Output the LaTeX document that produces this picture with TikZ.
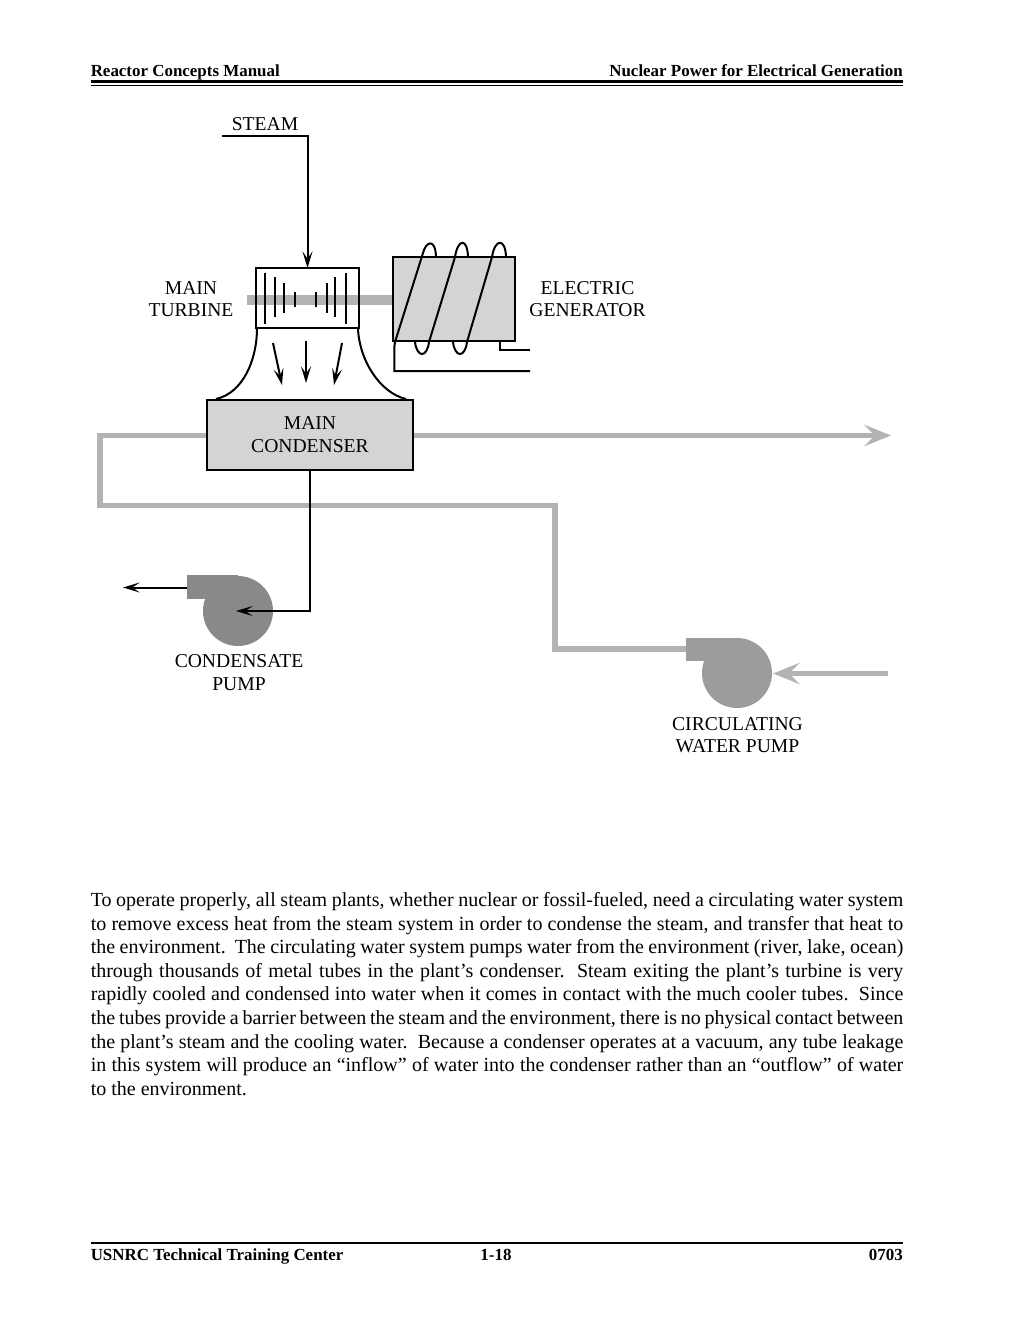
\documentclass[tikz,border=0pt]{standalone}
\usepackage{fontspec}
\setmainfont{Liberation Serif}
\usetikzlibrary{arrows.meta}
\definecolor{pipegray}{HTML}{B3B3B3}
\definecolor{boxgray}{HTML}{D4D4D4}
\definecolor{cpumpgray}{HTML}{898989}
\definecolor{wpumpgray}{HTML}{9C9C9C}
\newcommand{\bodyline}[2]{\node[bodytext] at (90.5,#1) {\hbox to 609.4pt{#2}};}
\tikzset{
  x=0.75pt,y=-0.75pt,
  label/.style={font=\fontsize{14.7}{16.9}\selectfont,align=center,inner sep=0pt},
  bodytext/.style={anchor=base west,inner sep=0pt,font=\fontsize{15}{17}\selectfont},
  headtext/.style={anchor=base,inner sep=0pt,font=\fontsize{12.7}{14}\selectfont\bfseries},
  blackline/.style={draw=black,line width=1.5pt},
  thinline/.style={draw=black,line width=1.5pt},
  tip/.style={-{Stealth[length=12.5pt,width=7.5pt,inset=5.5pt]}},
  pipe/.style={draw=pipegray,line width=4.4pt},
  pipetip/.style={-{Stealth[length=20pt,width=16pt,inset=8pt]}},
  bigbox/.style={draw=black,fill=boxgray,line width=1.6pt,minimum width=154.5pt,minimum height=52.5pt,inner sep=0pt,outer sep=0pt},
  boxedge/.style={draw=black,line width=1.6pt},
  genbox/.style={draw=black,fill=boxgray,line width=1.5pt,minimum width=91.5pt,minimum height=63pt,inner sep=0pt,outer sep=0pt},
  turbbox/.style={draw=black,line width=1.5pt,minimum width=77.25pt,minimum height=45pt,inner sep=0pt,outer sep=0pt},
  blade/.style={draw=black,line width=1.4pt},
  pumpc/.style={circle,minimum size=52.5pt,inner sep=0pt,outer sep=0pt},
  pumpr/.style={minimum width=38.25pt,minimum height=17.5pt,inner sep=0pt,outer sep=0pt},
}
\begin{document}
\begin{tikzpicture}
\useasboundingbox (0,0) rectangle (1023,1324);
\fill[white] (0,0) rectangle (1023,1324);
% page header
\node[headtext,anchor=base west] (hl) at (90.5,76) {Reactor Concepts Manual};
\node[headtext,anchor=base east] (hr) at (903,76) {Nuclear Power for Electrical Generation};
\fill[black] (90.5,80.3) rectangle (903,83.2);
\fill[black] (90.5,84.5) rectangle (903,85.7);
% main nodes
\node[bigbox] (cond) at (310,435) {};
\node[genbox] (gen) at (454,299) {};
\node[turbbox] (turb) at (307.5,298) {};
\node[pumpc,fill=cpumpgray] (cpump) at (238,611) {};
\node[pumpr,fill=cpumpgray] (cout) at (212.5,587) {};
\node[pumpc,fill=wpumpgray] (wpump) at (737,673) {};
\node[pumpr,fill=wpumpgray] (wout) at (711.5,649.5) {};
% water pipes
\coordinate (wc1) at (555,649);
\coordinate (wc2) at (555,505.5);
\coordinate (wc3) at (100,505.5);
\coordinate (wc4) at (100,435.5);
\coordinate (wend) at (891,435.5);
\coordinate (wstart) at (888,673.5);
\draw[pipe,line join=miter] (wout.west |- wc1) -- (wc1) -- (wc2) -- (wc3) -- (wc4) -- (cond.west |- wc4);
\draw[pipe,pipetip] (cond.east |- wend) -- (wend);
\draw[pipe,pipetip] (wstart) -- (773,673.5);
\draw[boxedge] (cond.south west) rectangle (cond.north east);
% shaft
\draw[draw=pipegray,line width=7.5pt] (247,299.5) -- (gen.west |- 0,299.5);
% redraw boxes over shaft
\draw[blackline] (turb.south west) rectangle (turb.north east);
\draw[blackline,fill=boxgray] (gen.south west) rectangle (gen.north east);
% turbine blades
\foreach \bx/\ba/\bb in {264.7/272.7/324,275/277.3/317.3,284/283.3/313.3,294.7/292/306.7,316/292/306.7,327/283.3/313.3,335.3/277.3/317.3,346/272.7/324}
  \draw[blade] (\bx,\ba) -- (\bx,\bb);
% exhaust hood
\coordinate (hl1) at (257,328);
\coordinate (hl2) at (216,399);
\coordinate (hr1) at (358,328);
\coordinate (hr2) at (406,399);
\draw[blackline] (hl1) .. controls (257,360) and (243,393) .. (hl2);
\draw[blackline] (hr1) .. controls (359,360) and (380,393) .. (hr2);
% coil
\draw[blackline,line join=round]
  (395,342) -- (423,253) .. controls (426,241) and (435.5,238) .. (436,257);
\draw[blackline] (429,342) -- (455,257) .. controls (458,238) and (467.5,238) .. (468,257);
\draw[blackline] (467,342) -- (492,257) .. controls (495,238) and (505.5,238) .. (506,257);
\draw[blackline] (415,342) .. controls (417,358) and (427,358) .. (429,342);
\draw[blackline] (453,342) .. controls (455,358) and (465,358) .. (467,342);
\coordinate (la) at (530,350);
\coordinate (lb) at (530,371);
\draw[blackline] (500,341) -- (500,350) -- (la);
\draw[blackline] (395,342) .. controls (394.5,345) and (394.3,347) .. (394.3,350) -- (394.3,371) -- (lb);
% steam
\coordinate (st) at (222,136);
\draw[thinline,tip] (st) -- (turb.north |- st) -- (turb.north);
% exhaust arrows
\coordinate (e1a) at (273,343); \coordinate (e1b) at (282,385);
\coordinate (e2a) at (306,341); \coordinate (e2b) at (306,383);
\coordinate (e3a) at (342,343); \coordinate (e3b) at (334,385);
\draw[thinline,tip] (e1a) -- (e1b);
\draw[thinline,tip] (e2a) -- (e2b);
\draw[thinline,tip] (e3a) -- (e3b);
% condensate
\coordinate (cend) at (123,587.5);
\draw[thinline,tip] (cout.west |- cend) -- (cend);
\draw[blackline,tip,line join=miter] (cond.south) -- (cond.south |- cpump.center) -- (236,611);
% labels
\node[label] (lsteam) at (265,124) {STEAM};
\node[label] (lturb) at (191,299) {MAIN\\TURBINE};
\node[label] (lgen) at (587.5,299) {ELECTRIC\\GENERATOR};
\node[label] (lcond) at (310,434.5) {MAIN\\CONDENSER};
\node[label] (lcp) at (239,672.5) {CONDENSATE\\PUMP};
\node[label] (lwp) at (737.5,735) {CIRCULATING\\WATER PUMP};
% body text
\bodyline{906.4}{To operate properly, all steam plants, whether nuclear or fossil-fueled, need a circulating water system}
\bodyline{930}{to remove excess heat from the steam system in order to condense the steam, and transfer that heat to}
\bodyline{953.6}{the environment.\ \ The circulating water system pumps water from the environment (river, lake, ocean)}
\bodyline{977.3}{through thousands of metal tubes in the plant’s condenser.\ \ Steam exiting the plant’s turbine is very}
\bodyline{1000.9}{rapidly cooled and condensed into water when it comes in contact with the much cooler tubes.\ \ Since}
\bodyline{1024.5}{the tubes provide a barrier between the steam and the environment, there is no physical contact between}
\bodyline{1048.2}{the plant’s steam and the cooling water.\ \ Because a condenser operates at a vacuum, any tube leakage}
\bodyline{1071.8}{in this system will produce an “inflow” of water into the condenser rather than an “outflow” of water}
\node[bodytext] (lastline) at (90.5,1095.4) {to the environment.};
% footer
\fill[black] (90.5,1241.8) rectangle (903,1244.2);
\node[headtext,anchor=base west] (fl) at (90.5,1260) {USNRC Technical Training Center};
\node[headtext] (fc) at (496,1260) {1-18};
\node[headtext,anchor=base east] (fr) at (903,1260) {0703};
\end{tikzpicture}
\end{document}
